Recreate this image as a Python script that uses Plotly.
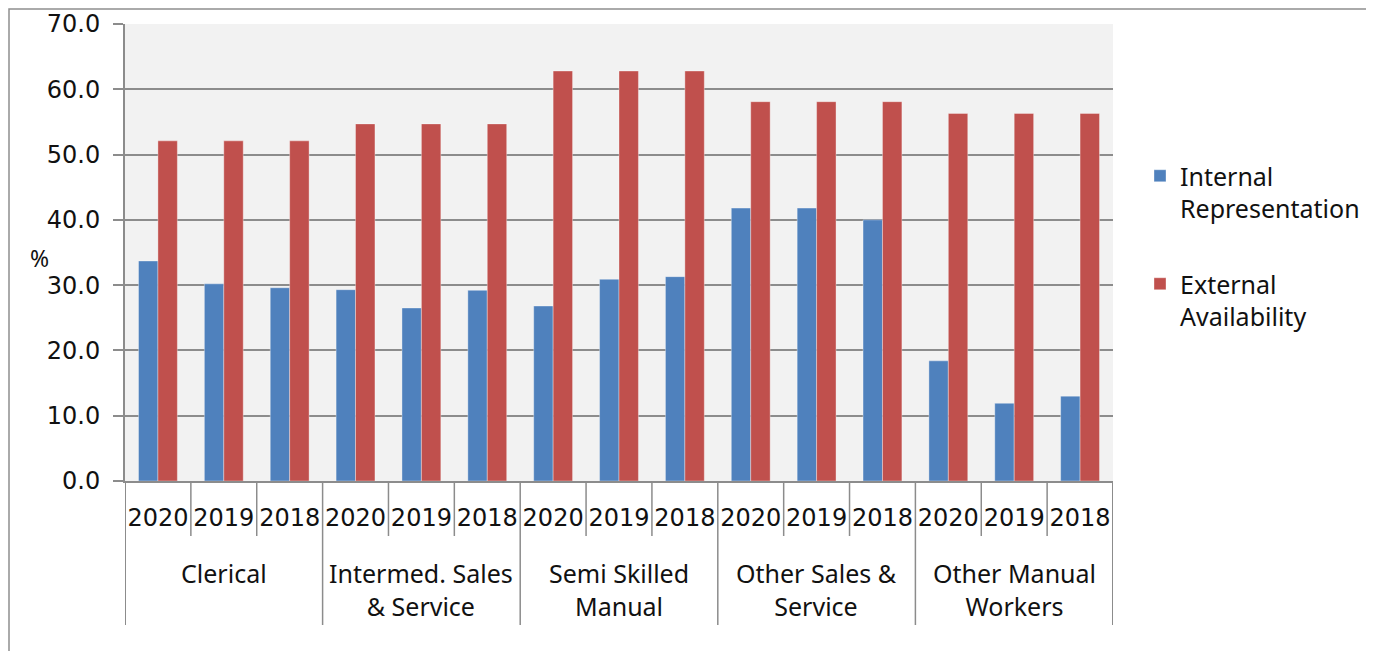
import plotly.graph_objects as go

categories = ["Clerical", "Intermed. Sales<br>& Service", "Semi Skilled<br>Manual",
              "Other Sales &<br>Service", "Other Manual<br>Workers"]
years = ["2020", "2019", "2018"]
internal = [33.7, 30.2, 29.6,
            29.3, 26.5, 29.2,
            26.8, 30.9, 31.3,
            41.8, 41.8, 40.0,
            18.4, 11.9, 13.0]
external = [52.1, 52.1, 52.1,
            54.7, 54.7, 54.7,
            62.8, 62.8, 62.8,
            58.1, 58.1, 58.1,
            56.3, 56.3, 56.3]
series_names = ["Internal<br>Representation", "External<br>Availability"]
colors = ["#4f81bd", "#c0504d"]

n_years = len(years)
xs = list(range(len(categories) * n_years))
year_labels = [years[i % n_years] for i in xs]

fig = go.Figure()
for name, vals, col in zip(series_names, [internal, external], colors):
    fig.add_trace(go.Bar(x=xs, y=vals, name=name, legendgroup=name,
                         marker=dict(color=col, line=dict(color="rgba(255,255,255,0.35)", width=1))))

GRID = "#8c8c8c"
TXT = "Noto Sans"
NUM = "DejaVu Sans"
INK = "#111"

# page pixel helpers: plot area on the page spans x 125..1113, y 24..481
H = 457.0
W = 988.0
def py(p):
    return (481 - p) / H
def px(p):
    return (p - 125) / W

shapes = []
for b in range(1, len(xs)):
    long = (b % n_years == 0)
    shapes.append(dict(type="line", xref="x", yref="paper", x0=b - 0.5, x1=b - 0.5,
                       y0=0, y1=py(625) if long else py(536),
                       line=dict(color=GRID, width=1.5)))
for b in [-0.5, len(xs) - 0.5]:
    shapes.append(dict(type="line", xref="x", yref="paper", x0=b, x1=b,
                       y0=0, y1=py(625), line=dict(color=GRID, width=2)))
shapes.append(dict(type="rect", xref="paper", yref="paper",
                   x0=px(9), x1=px(1371), y0=py(670), y1=py(9),
                   line=dict(color="#8f8f8f", width=1.5)))

annotations = []
for ci, cat in enumerate(categories):
    annotations.append(dict(x=ci * n_years + (n_years - 1) / 2, y=py(554), xref="x", yref="paper",
                            text=cat, showarrow=False, yanchor="top", xanchor="center",
                            font=dict(size=25, family=TXT, color=INK)))
annotations.append(dict(x=px(28), y=py(258), xref="paper", yref="paper", text="%",
                        showarrow=False, font=dict(size=23, family=TXT, color=INK)))

fig.update_layout(
    width=1366, height=643,
    margin=dict(l=117, r=261, t=16, b=170, autoexpand=False),
    paper_bgcolor="white", plot_bgcolor="#f2f2f2",
    barmode="group", bargap=0.41, bargroupgap=0,
    font=dict(family=TXT, size=24, color=INK),
    shapes=shapes, annotations=annotations,
    legend=dict(x=px(1140), xanchor="left", y=py(153), yanchor="top", valign="top",
                tracegroupgap=40, font=dict(size=25, family=TXT, color=INK),
                bgcolor="rgba(0,0,0,0)"),
    xaxis=dict(range=[-0.5, len(xs) - 0.5], tickmode="array", tickvals=xs, ticktext=year_labels,
               showgrid=False, zeroline=False, showline=True, linecolor=GRID, linewidth=2,
               ticks="", ticklabelstandoff=14, tickfont=dict(size=24, family=NUM, color=INK)),
    yaxis=dict(range=[0, 70], dtick=10, tickformat=".1f", showgrid=True, gridcolor=GRID, gridwidth=1.5,
               zeroline=False, showline=True, linecolor=GRID, linewidth=2,
               ticks="outside", ticklen=10, tickcolor=GRID, tickwidth=1.5,
               ticklabelstandoff=8, tickfont=dict(size=24, family=NUM, color=INK)),
)

fig.write_html("out.html")
